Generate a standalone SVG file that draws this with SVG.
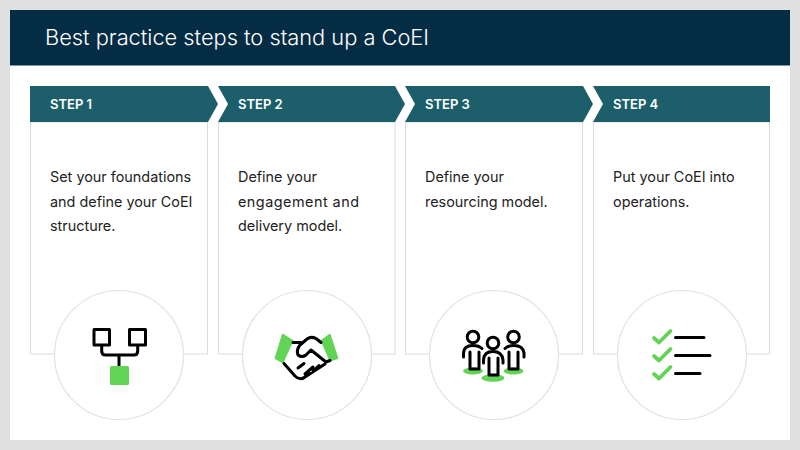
<svg xmlns="http://www.w3.org/2000/svg" width="800" height="450" viewBox="0 0 800 450">
<style>
text{font-family:"Inter","Noto Sans",sans-serif}
.title{font-size:21.8px;fill:#fff;font-weight:300}
.step{font-size:13px;fill:#fff;font-weight:600}
.body{font-size:14.4px;fill:#222;font-weight:400}
.card{fill:#fff;stroke:#dcdcdc;stroke-width:1}
.bar{fill:#1c5f6b}
.disc{fill:#fff;stroke:#e2e2e2;stroke-width:1.2}
.ink{fill:none;stroke:#000;stroke-width:3;stroke-linecap:round;stroke-linejoin:round}
.green{fill:#62d455}
.chk{fill:none;stroke:#62d455;stroke-width:3.8;stroke-linecap:round;stroke-linejoin:round}
</style>
<rect width="800" height="450" fill="#e0e0e0"/>
<rect x="10" y="10" width="780" height="430" fill="#fff"/>
<g id="header">
<rect x="10" y="10" width="780" height="55.5" fill="#042c44"/>
<text class="title" x="45" y="45">Best practice steps to stand up a CoEI</text>
</g>
<g id="step1">
<rect class="card" x="30.500" y="122" width="177" height="232"/>
<path class="bar" d="M30 86H208L218 104L208 122H30Z"/>
<text class="step" x="50" y="109">STEP 1</text>
<text class="body" x="50" y="182">Set your foundations</text>
<text class="body" x="50" y="207">and define your CoEI</text>
<text class="body" x="50" y="231">structure.</text>
<circle class="disc" cx="119" cy="355" r="64.500"/>
<path class="ink" d="M94 329.500H109.500V345H94ZM129.500 329.500H145.500V345H129.500ZM101.700 346V351Q101.700 355 105.500 355H134Q137.700 355 137.700 351V346M119 355V366"/>
<rect class="green" x="110" y="366" width="19" height="19" rx="1.500"/>
</g>
<g id="step2">
<rect class="card" x="218.500" y="122" width="176.500" height="232"/>
<path class="bar" d="M218 86H395L405 104L395 122H218L228 104Z"/>
<text class="step" x="238" y="109">STEP 2</text>
<text class="body" x="238" y="182">Define your</text>
<text class="body" x="238" y="207" textLength="121">engagement and</text>
<text class="body" x="238" y="231">delivery model.</text>
<circle class="disc" cx="307" cy="355" r="64.500"/>
<path class="green" d="M282.500 334L293 340.500L283 363L275 358.500Z" stroke="#62d455" stroke-width="1" stroke-linejoin="round"/>
<path class="green" d="M330 334L321 340.500L330 361L338 358.500Z" stroke="#62d455" stroke-width="1" stroke-linejoin="round"/>
<g class="ink">
<path d="M293 342.500H301M321 342.500L316 338.500Q311 336 307 339L300 345Q296 350 298 355Q302 358 306 355L311 350L326 362L330 360.500"/>
<path d="M284 363.500L295 376Q300 381 305 377L325 364M298 368L304 363.500M305 374L313 367M313 371L319 365.500"/>
</g>
</g>
<g id="step3">
<rect class="card" x="405.500" y="122" width="177" height="232"/>
<path class="bar" d="M405 86H583L593 104L583 122H405L415 104Z"/>
<text class="step" x="425" y="109">STEP 3</text>
<text class="body" x="425" y="182">Define your</text>
<text class="body" x="425" y="207">resourcing model.</text>
<circle class="disc" cx="494" cy="355" r="64.500"/>
<ellipse class="green" cx="473" cy="371" rx="10" ry="3.500"/>
<ellipse class="green" cx="493" cy="378" rx="11.500" ry="3.800"/>
<ellipse class="green" cx="513.500" cy="371" rx="10" ry="3.500"/>
<g class="ink">
<circle cx="473" cy="337" r="5.800"/>
<circle cx="493" cy="343" r="5.800"/>
<circle cx="513.500" cy="337" r="5.800"/>
<path d="M463.500 357V353Q464 345.500 472.500 345.500Q479 345.500 482 348.500M470 352V369H479V352"/>
<path d="M483.500 363V360Q484 351.500 493 351.500Q502 351.500 503 360V363M489 358V375H498V358"/>
<path d="M505 348.500Q508 345.500 514 345.500Q523 345.500 524 353V357M509 352V369H518V352"/>
</g>
</g>
<g id="step4">
<rect class="card" x="593.500" y="122" width="176" height="232"/>
<path class="bar" d="M593 86H770V122H593L603 104Z"/>
<text class="step" x="613" y="109">STEP 4</text>
<text class="body" x="613" y="182">Put your CoEI into</text>
<text class="body" x="613" y="207">operations.</text>
<circle class="disc" cx="682" cy="355" r="64.500"/>
<path class="chk" d="M654 338L659 342.500L670.500 331M654 356L659 360.500L670.500 349M654 374L659 378.500L670.500 367"/>
<path class="ink" d="M675.500 337.500H704M675.500 355.500H710M675.500 373.500H700"/>
</g>
</svg>
